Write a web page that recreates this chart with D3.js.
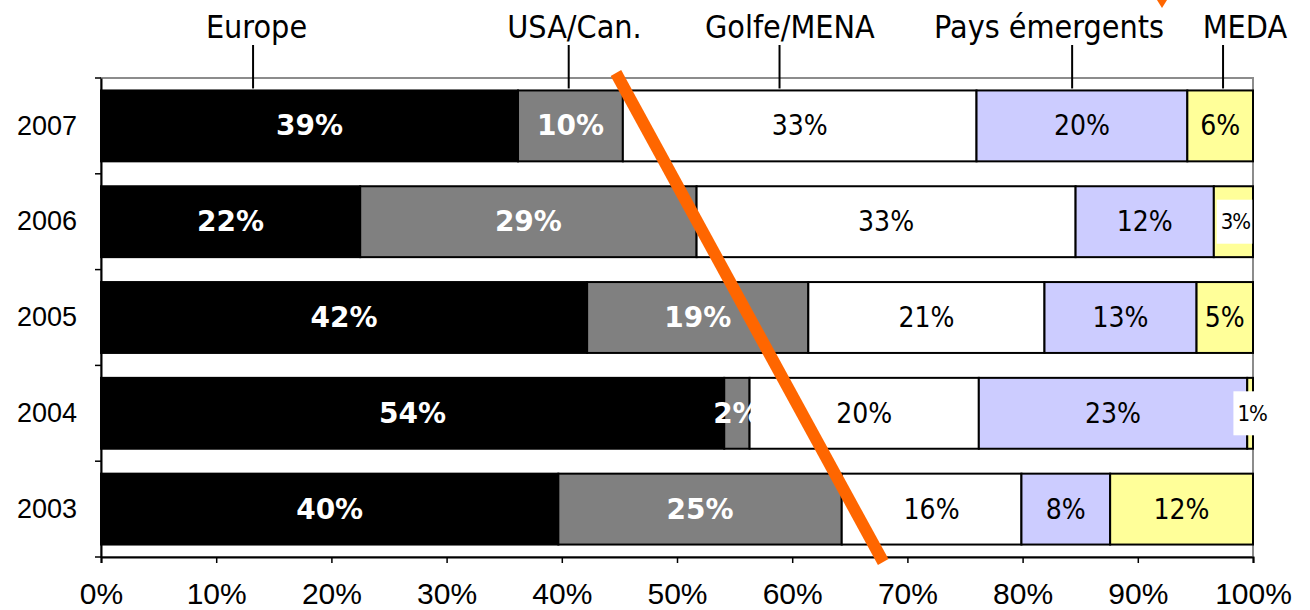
<!DOCTYPE html>
<html>
<head>
<meta charset="utf-8">
<script src="https://cdn.jsdelivr.net/npm/d3@7"></script>
<style>
  body { margin: 0; background: #fff; }
  svg { display: block; font-family: "DejaVu Sans Condensed", "DejaVu Sans", sans-serif; }
</style>
</head>
<body>
<svg id="chart"></svg>
<script>
// ---- data (shares per year) ----
const years = ["2007", "2006", "2005", "2004", "2003"];
const regions = ["Europe", "USA/Can.", "Golfe/MENA", "Pays émergents", "MEDA"];

const europe = [36.2, 22.5, 42.2, 54.1, 39.7];
const usa    = [9.1, 29.2, 19.2, 2.2, 24.6];
const golfe  = [30.7, 32.9, 20.5, 19.9, 15.6];
const pays   = [18.3, 12.0, 13.2, 23.3, 7.7];
const meda   = [5.7, 3.4, 4.9, 0.5, 12.4];

// printed labels (as shown on the bars)
const europeLbl = ["39%", "22%", "42%", "54%", "40%"];
const usaLbl    = ["10%", "29%", "19%", "2%", "25%"];
const golfeLbl  = ["33%", "33%", "21%", "20%", "16%"];
const paysLbl   = ["20%", "12%", "13%", "23%", "8%"];
const medaLbl   = ["6%", "3%", "5%", "1%", "12%"];

// where the region captions point to (in % of the 2007 bar)
const captionAt = [13.2, 40.6, 58.9, 84.3, 97.4];
const captionTextAt = [13.5, 41.1, 59.8, 82.3, 99.3];

const xTicks = [0, 10, 20, 30, 40, 50, 60, 70, 80, 90, 100];

// ---- layout ----
const W = 1310, H = 610;
const margin = { top: 78, right: 57, bottom: 53, left: 101 };
const width = W - margin.left - margin.right;
const height = H - margin.top - margin.bottom;

const svg = d3.select("#chart").attr("width", W).attr("height", H);

const series = [europe, usa, golfe, pays, meda];
const labels = [europeLbl, usaLbl, golfeLbl, paysLbl, medaLbl];
const colors = ["#000000", "#808080", "#ffffff", "#ccccff", "#ffff99"];

const table = years.map((y, i) => {
  const row = { year: y };
  regions.forEach((r, k) => { row[r] = series[k][i]; });
  return row;
});

const stacked = d3.stack().keys(regions)(table);

const x = d3.scaleLinear().domain([0, 100]).range([0, width]);
const y = d3.scaleBand().domain(years).range([0, height])
  .paddingInner(0.26).paddingOuter(0.13);

const chart = svg.append("g")
  .attr("transform", `translate(${margin.left},${margin.top})`);

// plot frame (grey top / right)
chart.append("rect")
  .attr("x", 0).attr("y", 0)
  .attr("width", width).attr("height", height)
  .attr("fill", "none")
  .attr("stroke", "#8c8c8c")
  .attr("stroke-width", 2);

// ---- bars ----
const layer = chart.selectAll("g.layer")
  .data(stacked)
  .join("g")
  .attr("class", "layer")
  .attr("fill", (d, k) => colors[k]);

layer.selectAll("rect")
  .data(d => d)
  .join("rect")
  .attr("x", d => x(d[0]))
  .attr("y", d => y(d.data.year))
  .attr("width", d => x(d[1]) - x(d[0]))
  .attr("height", y.bandwidth())
  .attr("stroke", "#000")
  .attr("stroke-width", 2);

// ---- bar labels ----
stacked.forEach((s, k) => {
  s.forEach((d, i) => {
    const cx = (x(d[0]) + x(d[1])) / 2;
    const cy = y(d.data.year) + y.bandwidth() / 2;
    const segW = x(d[1]) - x(d[0]);
    const bold = k < 2;
    const g = chart.append("g");
    if (k === 4 && segW < 45) {
      // thin MEDA segments: label on a white box
      const t = g.append("text")
        .attr("x", cx + 2).attr("y", cy)
        .attr("text-anchor", "middle")
        .attr("dominant-baseline", "central")
        .attr("font-size", 22)
        .attr("fill", "#000")
        .attr("letter-spacing", -1)
        .text(labels[k][i]);
      const bb = t.node().getBBox();
      g.insert("rect", "text")
        .attr("x", bb.x - 4).attr("y", cy - 22)
        .attr("width", bb.width + 6).attr("height", 44)
        .attr("fill", "#fff");
    } else {
      g.append("text")
        .attr("x", cx).attr("y", cy)
        .attr("text-anchor", "middle")
        .attr("dominant-baseline", "central")
        .attr("font-size", 28)
        .attr("font-family", bold ? "DejaVu Sans" : null)
        .attr("font-weight", bold ? "bold" : "normal")
        .attr("fill", bold ? "#fff" : "#000")
        .text(labels[k][i]);
    }
  });
});

// ---- axes ----
const xAxis = chart.append("g")
  .attr("transform", `translate(0,${height})`)
  .call(d3.axisBottom(x).tickValues(xTicks).tickSize(6).tickFormat(d => d + "%"));
xAxis.select(".domain").attr("stroke", "#000").attr("stroke-width", 2);
xAxis.selectAll(".tick line").attr("stroke", "#000").attr("stroke-width", 1.5);
xAxis.selectAll(".tick text")
  .attr("font-size", 30).attr("font-family", null).attr("fill", "#000").attr("dy", "1.25em");

const yAxis = chart.append("g")
  .call(d3.axisLeft(y).tickSize(0).tickPadding(24));
yAxis.select(".domain").attr("stroke", "#000").attr("stroke-width", 2);
yAxis.selectAll(".tick text")
  .attr("font-size", 27).attr("font-family", null).attr("fill", "#000");

// category boundary ticks on the left
const bounds = years.map(yy => y(yy) - y.step() * y.paddingInner() / 2);
bounds.push(height);
chart.selectAll(".ybound")
  .data(bounds)
  .join("line")
  .attr("class", "ybound")
  .attr("x1", -6).attr("x2", 0)
  .attr("y1", d => d).attr("y2", d => d)
  .attr("stroke", "#000").attr("stroke-width", 1.5);

// ---- region captions with leader lines ----
const topBar = y(years[0]);
regions.forEach((r, k) => {
  chart.append("line")
    .attr("x1", x(captionAt[k])).attr("x2", x(captionAt[k]))
    .attr("y1", -33).attr("y2", topBar - 2)
    .attr("stroke", "#000").attr("stroke-width", 2);
  chart.append("text")
    .attr("x", x(captionTextAt[k])).attr("y", -40)
    .attr("text-anchor", "middle")
    .attr("font-size", 32)
    .attr("fill", "#000")
    .text(r);
});

// ---- orange trend stroke + arrow head ----
chart.append("line")
  .attr("x1", x(44.7)).attr("y1", -5)
  .attr("x2", x(67.9)).attr("y2", height + 5)
  .attr("stroke", "#ff6600")
  .attr("stroke-width", 12);

const ax = x(92.1);
chart.append("path")
  .attr("d", `M${ax - 5},${-margin.top} L${ax + 5},${-margin.top} L${ax},${-margin.top + 8} Z`)
  .attr("fill", "#ff6600");
</script>
</body>
</html>
